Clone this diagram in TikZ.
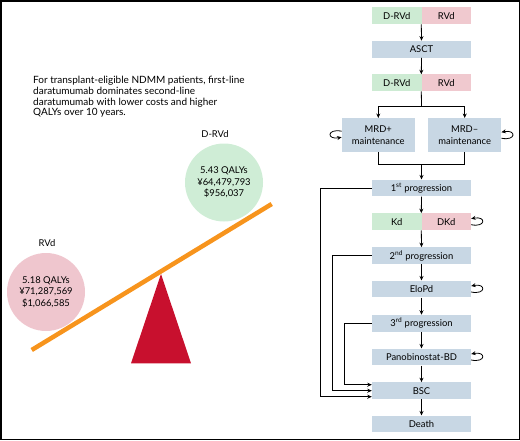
\documentclass[tikz,border=0pt]{standalone}
\usepackage{fontspec}
\setmainfont{Lato}
\usetikzlibrary{arrows.meta}
\definecolor{boxblue}{HTML}{C8D7E4}
\definecolor{boxgreen}{HTML}{CDEBD3}
\definecolor{boxpink}{HTML}{F0C9CF}
\definecolor{ballgreen}{HTML}{CFEDD6}
\definecolor{ballpink}{HTML}{EFC6CE}
\definecolor{beamorange}{HTML}{F7941D}
\definecolor{fulcrumred}{HTML}{C8102E}

\begin{document}
\begin{tikzpicture}[x=1pt,y=-1pt,
        txt/.style={font=\fontsize{9.4}{11.3}\selectfont},
        flowbox/.style={txt, fill=boxblue, minimum width=99pt, minimum height=16.7pt, inner sep=0pt},
        halfbox/.style={flowbox, minimum width=49.5pt},
        mrdbox/.style={flowbox, minimum width=73pt, minimum height=34pt, align=center},
        ball/.style={circle, minimum size=78pt, inner sep=0pt, align=center, txt},
        arr/.style={-{Stealth[length=4.5pt,width=4pt]}, line width=0.8pt},
        link/.style={line width=0.8pt}]

                    \useasboundingbox (0,0) rectangle (520,440);
                    \draw[line width=1.5pt] (0.75,0.75) rectangle (519.25,439.25);

                    \node[font=\fontsize{10}{10.8}\selectfont, anchor=north west, align=left, inner sep=0pt] (summary) at (33,76)
                        {For transplant-eligible NDMM patients, first-line\\
                         daratumumab dominates second-line\\
                         daratumumab with lower costs and higher\\
                         QALYs over 10 years.};

                    \node[txt] (drvdtag) at (215,134) {D-RVd};
                    \node[ball, fill=ballgreen] (greenball) at (224,182.5) {5.43 QALYs\\¥64,479,793\\\$956,037};
                    \node[txt] (rvdtag) at (47,243.3) {RVd};
                    \node[ball, fill=ballpink] (pinkball) at (46,292) {5.18 QALYs\\¥71,287,569\\\$1,066,585};

                    \fill[fulcrumred] (161,274) -- (131,363.3) -- (191,363.3) -- cycle;
                    \draw[beamorange, line width=4.5pt] (31.7,350) -- (271.7,204);

                    \foreach \name/\y/\tag in {
                        asct/49.2/ASCT,
                        prog1/188/1\textsuperscript{st} progression,
                        prog2/255.7/2\textsuperscript{nd} progression,
                        elopd/289/EloPd,
                        prog3/323.3/3\textsuperscript{rd} progression,
                        pano/357/Panobinostat-BD,
                        bsc/390.7/BSC,
                        death/424/Death} {
                        \node[flowbox] (\name) at (421.5,\y) {\tag};
                    };

                    \foreach \name/\x/\y/\tag/\col in {
                        drvda/396.75/15.7/D-RVd/boxgreen,
                        rvda/446.25/15.7/RVd/boxpink,
                        drvdb/396.75/82.8/D-RVd/boxgreen,
                        rvdb/446.25/82.8/RVd/boxpink,
                        kd/396.75/221.7/Kd/boxgreen,
                        dkd/446.25/221.7/DKd/boxpink} {
                        \node[halfbox, fill=\col] (\name) at (\x,\y) {\tag};
                    };

                    \node[mrdbox] (mrdplus) at (378.3,135.2) {MRD+\\maintenance};
                    \node[mrdbox] (mrdminus) at (464.7,135.2) {MRD--\\maintenance};

                    \coordinate (split) at (421.5,106);
                    \coordinate (join) at (421.5,164);

                    \draw[arr] (rvda.south west) -- (asct.north);
                    \draw[arr] (asct.south) -- (rvdb.north west);
                    \draw[link] (rvdb.south west) -- (split);
                    \draw[arr] (split) -| (mrdplus.north);
                    \draw[arr] (split) -| (mrdminus.north);
                    \draw[link] (mrdplus.south) |- (join);
                    \draw[link] (mrdminus.south) |- (join);
                    \draw[arr] (join) -- (prog1.north);
                    \draw[arr] (prog1.south) -- (dkd.north west);
                    \draw[arr] (dkd.south west) -- (prog2.north);
                    \draw[arr] (prog2) -- (elopd);
                    \draw[arr] (elopd) -- (prog3);
                    \draw[arr] (prog3) -- (pano);
                    \draw[arr] (pano) -- (bsc);
                    \draw[arr] (bsc) -- (death);

                    \draw[arr] (prog1.west) -- ++(-51,0) |- ([yshift=-6pt]bsc.west);
                    \draw[arr] (prog2.west) -- ++(-39.3,0) |- (bsc.west);
                    \draw[arr] (prog3.west) -- ++(-27.7,0) |- ([yshift=6pt]bsc.west);

                    \draw[arr] ([yshift=4pt]mrdplus.west) .. controls +(-15pt,3pt) and +(-15pt,-3pt) .. ([yshift=-2pt]mrdplus.west);
                    \foreach \name in {mrdminus, dkd, elopd, pano}
                        \draw[arr] ([yshift=-3pt]\name.east) .. controls +(15pt,-3pt) and +(15pt,3pt) .. ([yshift=3pt]\name.east);

                \end{tikzpicture}
\end{document}
